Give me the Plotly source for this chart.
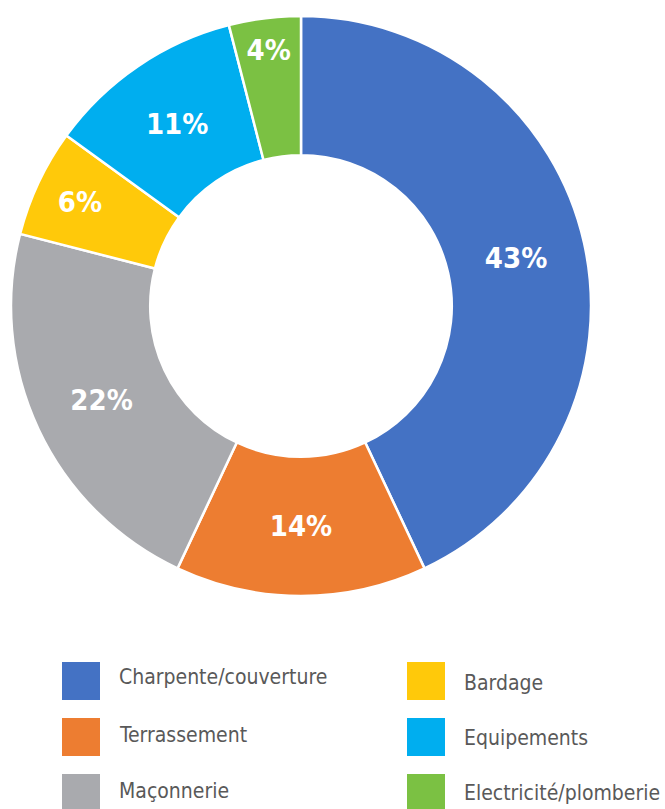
import plotly.graph_objects as go

categories = ["Charpente/couverture", "Terrassement", "Maçonnerie", "Bardage", "Equipements", "Electricité/plomberie"]
values = [43, 14, 22, 6, 11, 4]
colors = ["#4472C4", "#ED7D31", "#A9AAAE", "#FFC90A", "#00AEEF", "#7BC143"]

W, H = 665, 809
FONT = "DejaVu Sans Condensed, Liberation Sans Narrow, Arial Narrow, sans-serif"
fig = go.Figure()
fig.add_trace(go.Pie(
    labels=categories, values=values, sort=False, direction="clockwise", rotation=0,
    hole=0.52,
    marker=dict(colors=colors, line=dict(color="white", width=2.5)),
    texttemplate="%{value}%", textposition="inside", insidetextorientation="horizontal",
    textfont=dict(family=FONT, size=29, color="white", weight="bold"),
    domain=dict(x=[11 / W, 591 / W], y=[1 - 597 / H, 1 - 15 / H]),
    showlegend=False, hoverinfo="label+percent",
))

# custom legend, two columns of three
col_x = [62, 407]
row_y = [662, 718, 774]
text_dy = [[-4, -2, -2], [2, 1, 0]]
for i, cat in enumerate(categories):
    c, r = divmod(i, 3)
    x0, y0 = col_x[c], row_y[r]
    fig.add_shape(type="rect", xref="paper", yref="paper",
                  x0=x0 / W, x1=(x0 + 38) / W, y0=1 - y0 / H, y1=1 - (y0 + 38) / H,
                  fillcolor=colors[i], line=dict(width=0))
    fig.add_annotation(xref="paper", yref="paper", x=(x0 + 55) / W, y=1 - (y0 + 19 + text_dy[c][r]) / H,
                       text=cat, showarrow=False, xanchor="left", yanchor="middle",
                       font=dict(family=FONT, size=21, color="#595959"))

fig.update_layout(width=W, height=H, margin=dict(l=0, r=0, t=0, b=0),
                  paper_bgcolor="white", plot_bgcolor="white",
                  uniformtext=dict(minsize=29, mode="show"))
fig.write_html("out.html", config={"displayModeBar": False},
               post_script="document.body.style.margin='0';document.body.style.overflow='hidden';")
